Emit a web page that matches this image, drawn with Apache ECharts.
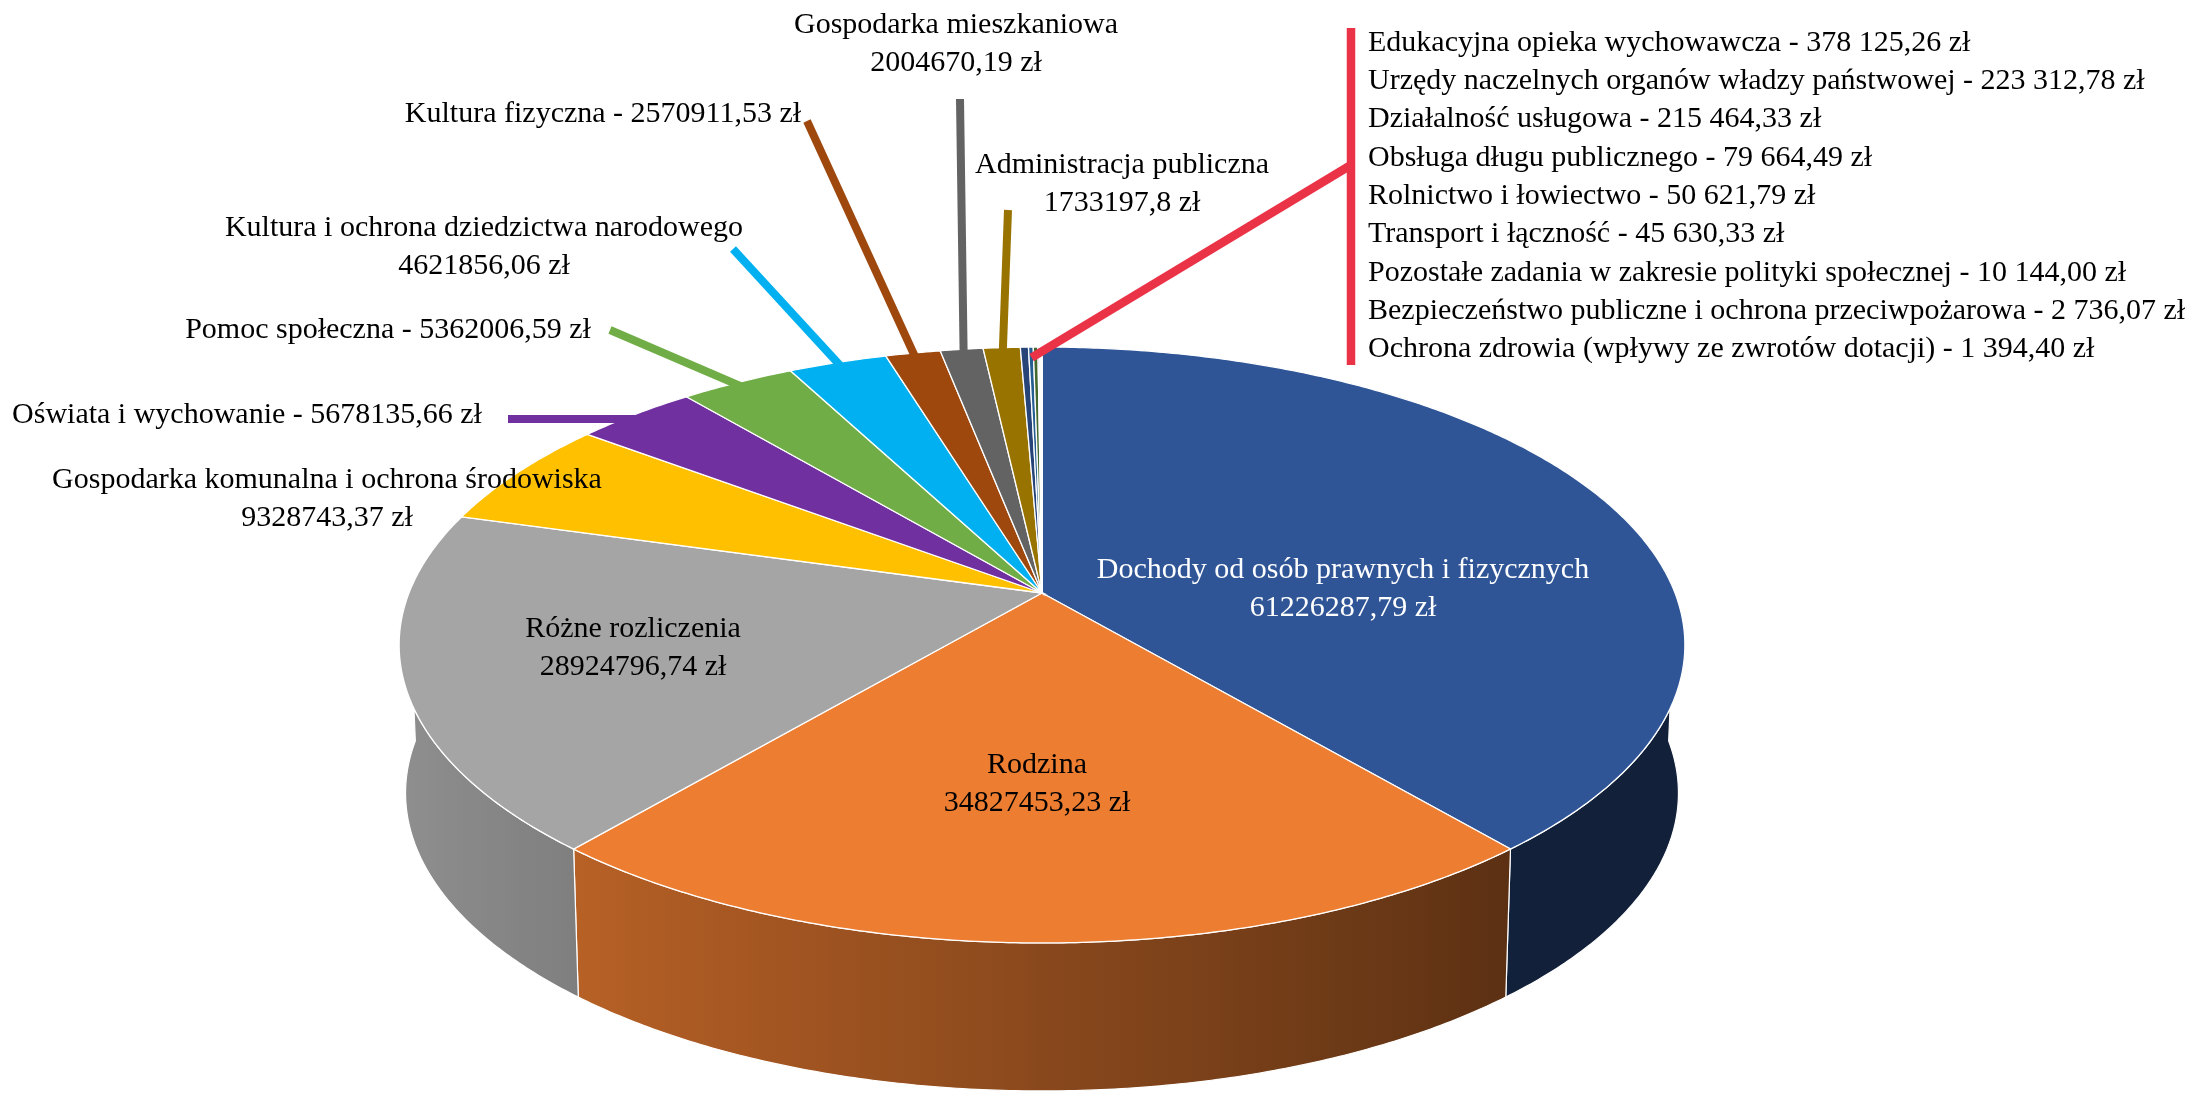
<!DOCTYPE html>
<html>
<head>
<meta charset="utf-8">
<script src="https://cdn.jsdelivr.net/npm/echarts/dist/echarts.min.js"></script>
<style>
  html, body { margin: 0; padding: 0; background: #fff; }
  #chart { width: 2194px; height: 1097px; }
</style>
</head>
<body>
<div id="chart"></div>
<script>
// data (zł)
const categories = [
  'Dochody od osób prawnych i fizycznych',
  'Rodzina',
  'Różne rozliczenia',
  'Gospodarka komunalna i ochrona środowiska',
  'Oświata i wychowanie',
  'Pomoc społeczna',
  'Kultura i ochrona dziedzictwa narodowego',
  'Kultura fizyczna',
  'Gospodarka mieszkaniowa',
  'Administracja publiczna',
  'Edukacyjna opieka wychowawcza',
  'Urzędy naczelnych organów władzy państwowej',
  'Działalność usługowa',
  'Obsługa długu publicznego',
  'Rolnictwo i łowiectwo',
  'Transport i łączność',
  'Pozostałe zadania w zakresie polityki społecznej',
  'Bezpieczeństwo publiczne i ochrona przeciwpożarowa',
  'Ochrona zdrowia (wpływy ze zwrotów dotacji)'
];
const values = [
  61226287.79, 34827453.23, 28924796.74, 9328743.37, 5678135.66,
  5362006.59, 4621856.06, 2570911.53, 2004670.19, 1733197.8,
  378125.26, 223312.78, 215464.33, 79664.49, 50621.79,
  45630.33, 10144.00, 2736.07, 1394.40
];
const colors = [
  '#2F5597', '#ED7D31', '#A5A5A5', '#FFC000', '#7030A0',
  '#70AD47', '#00B0F0', '#9E480E', '#636363', '#997300',
  '#264478', '#255E91', '#43682B', '#698ED0', '#F1975A',
  '#B7B7B7', '#FFCD33', '#7CAFDD', '#8CC168'
];
const SMALL_FROM = 10; // slices listed on the right

// layout of the labels (not data)
const labelAt = [
  { x: 1343, y: 589, lines: 2, color: '#ffffff' },
  { x: 1037, y: 784, lines: 2 },
  { x: 633, y: 648, lines: 2 },
  { x: 327, y: 499, lines: 2 },
  { x: 247, y: 415, lines: 1 },
  { x: 388, y: 330, lines: 1 },
  { x: 484, y: 247, lines: 2 },
  { x: 603, y: 114, lines: 1 },
  { x: 956, y: 44, lines: 2 },
  { x: 1122, y: 184, lines: 2 }
];
const leaderFrom = [null, null, null, null, [508, 419], [610, 330], [733, 249], [807, 121], [960, 99], [1008, 210]];
const listX = 1368, listY = 43, listStep = 38.3;
const redColor = '#EB3348';
const FONT = '"Liberation Serif", "Times New Roman", serif';

// 3d view: perspective top face, side wall shifted straight down
const P = { cx: 1042, cy: 593, k: 633, sinA: 0.4564, cosA: 0.8898, dist: 5.099, depth: 148, shrink: 0.99 };
function project(phi, r) {
  const xd = r * Math.sin(phi), d = -r * Math.cos(phi);
  const u = -d * P.sinA;
  const w = d * P.cosA;
  const s = P.dist / (P.dist - w);
  return [P.cx + P.k * xd * s, P.cy - P.k * u * s];
}
function projectBottom(phi) {
  const p = project(phi, 1);
  return [P.cx + (p[0] - P.cx) * P.shrink, p[1] + P.depth];
}

const total = values.reduce((a, b) => a + b, 0);
const angles = [];
let acc = 0;
values.forEach(v => {
  const a0 = acc / total * Math.PI * 2;
  acc += v;
  angles.push([a0, acc / total * Math.PI * 2]);
});

function arc(a0, a1, fn) {
  const n = Math.max(2, Math.ceil((a1 - a0) / (Math.PI / 360)));
  const pts = [];
  for (let j = 0; j <= n; j++) pts.push(fn(a0 + (a1 - a0) * j / n));
  return pts;
}

function shade(hex, f) {
  const n = parseInt(hex.slice(1), 16);
  const c = [(n >> 16) & 255, (n >> 8) & 255, n & 255].map(v => Math.round(v * f));
  return 'rgb(' + c.join(',') + ')';
}
function light(phi) {
  return Math.min(0.86, Math.max(0.38, 0.58 - 0.3 * Math.sin(phi)));
}

function fmtRaw(v) { return String(v).replace('.', ','); }
function fmtGrouped(v) {
  const parts = v.toFixed(2).split('.');
  return parts[0].replace(/\B(?=(\d{3})+(?!\d))/g, ' ') + ',' + parts[1];
}

const VIS0 = Math.PI / 2, VIS1 = Math.PI * 1.5;

function renderSide(params, api) {
  const i = params.dataIndex;
  const a0 = Math.max(angles[i][0], VIS0), a1 = Math.min(angles[i][1], VIS1);
  if (a1 <= a0) return { type: 'group', children: [] };
  const top = arc(a0, a1, phi => project(phi, 1));
  const bot = arc(a0, a1, projectBottom).reverse();
  const pts = top.concat(bot);
  const xs = pts.map(p => p[0]);
  const minX = Math.min(...xs), maxX = Math.max(...xs);
  const stops = [];
  const n = 24;
  for (let j = 0; j <= n; j++) {
    const phi = a0 + (a1 - a0) * j / n;
    const x = project(phi, 1)[0];
    stops.push({ offset: Math.min(1, Math.max(0, (x - minX) / (maxX - minX || 1))), color: shade(colors[i], light(phi)) });
  }
  stops.sort((a, b) => a.offset - b.offset);
  return {
    type: 'polygon',
    shape: { points: pts },
    style: {
      fill: { type: 'linear', x: minX, y: 0, x2: maxX, y2: 0, global: true, colorStops: stops },
      stroke: '#ffffff', lineWidth: 1.2
    }
  };
}

function renderTop(params, api) {
  const i = params.dataIndex;
  const pts = [project(0, 0)].concat(arc(angles[i][0], angles[i][1], phi => project(phi, 1)));
  return {
    type: 'polygon',
    shape: { points: pts },
    style: { fill: colors[i], stroke: '#ffffff', lineWidth: 1.3 }
  };
}

function textEl(x, y, text, align, color) {
  return {
    type: 'text',
    x: x, y: y,
    style: {
      text: text, fill: color || '#000000',
      font: '30px ' + FONT, fontSize: 30, fontFamily: FONT,
      align: align, verticalAlign: 'middle',
      textAlign: align, textVerticalAlign: 'middle',
      lineHeight: 38
    }
  };
}
function lineEl(points, color, width) {
  return { type: 'polyline', shape: { points: points }, style: { stroke: color, lineWidth: width, fill: null } };
}

function renderLabel(params, api) {
  const i = params.dataIndex;
  const v = api.value(0);
  const children = [];
  if (i < SMALL_FROM) {
    const L = labelAt[i];
    const txt = L.lines === 2
      ? categories[i] + '\n' + fmtRaw(v) + ' zł'
      : categories[i] + ' - ' + fmtRaw(v) + ' zł';
    if (leaderFrom[i]) {
      const mid = (angles[i][0] + angles[i][1]) / 2;
      children.push(lineEl([leaderFrom[i], project(mid, 0.97)], colors[i], 8));
    }
    children.push(textEl(L.x, L.y, txt, 'center', L.color));
  } else {
    const j = i - SMALL_FROM;
    children.push(textEl(listX, listY + j * listStep, categories[i] + ' - ' + fmtGrouped(v) + ' zł', 'left'));
    if (i === SMALL_FROM) {
      const mid = (angles[SMALL_FROM][0] + angles[values.length - 1][1]) / 2;
      const bx = listX - 17;
      children.push(lineEl([project(mid, 0.95), [bx, 165]], redColor, 8.5));
      children.push(lineEl([[bx, 28], [bx, 365]], redColor, 8.5));
    }
  }
  return { type: 'group', children: children };
}

const seriesData = values.map((v, i) => ({ name: categories[i], value: [v, i] }));

const chart = echarts.init(document.getElementById('chart'));
chart.setOption({
  backgroundColor: '#ffffff',
  animation: false,
  series: [
    { type: 'custom', name: 'side', coordinateSystem: 'none', z: 1, data: seriesData, renderItem: renderSide, silent: true },
    { type: 'custom', name: 'top', coordinateSystem: 'none', z: 2, data: seriesData, renderItem: renderTop, silent: true },
    { type: 'custom', name: 'labels', coordinateSystem: 'none', z: 3, data: seriesData, renderItem: renderLabel, silent: true }
  ]
});
window.addEventListener('resize', function () { chart.resize(); });
</script>
</body>
</html>
